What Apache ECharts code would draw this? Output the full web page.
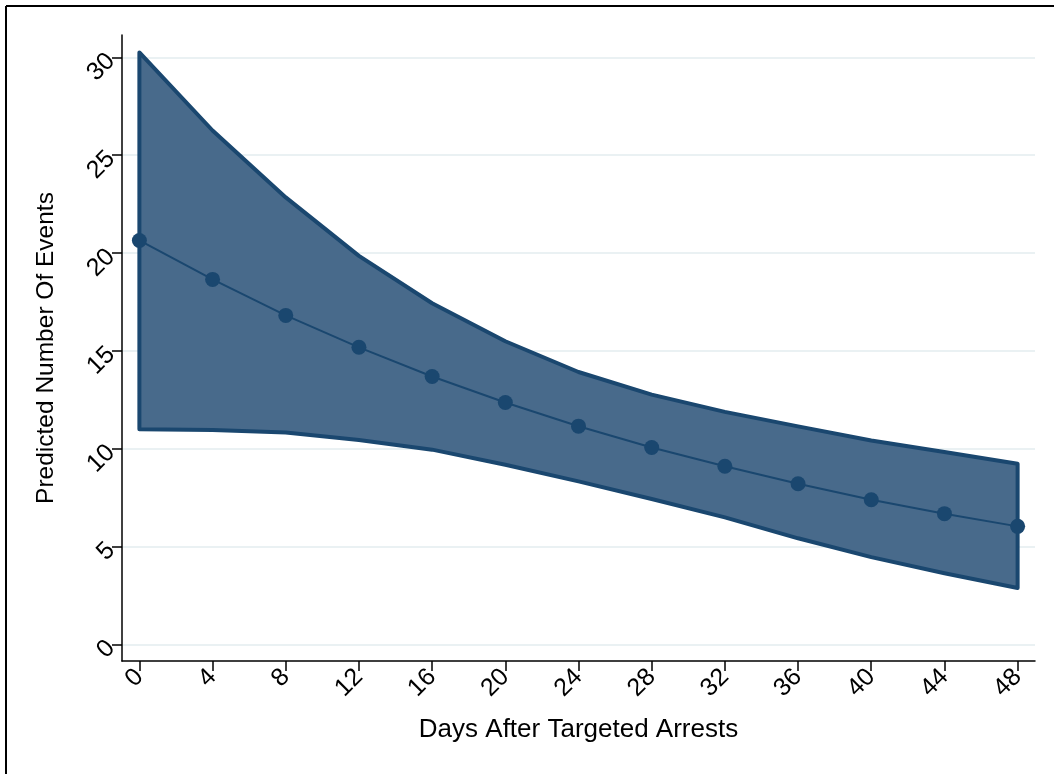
<!DOCTYPE html>
<html>
<head>
<meta charset="utf-8">
<script src="https://cdn.jsdelivr.net/npm/echarts@6/dist/echarts.min.js"></script>
<style>
html,body{margin:0;padding:0;background:#fff;}
#chart{width:1054px;height:774px;}
</style>
</head>
<body>
<div id="chart"></div>
<script>
var days = [0, 4, 8, 12, 16, 20, 24, 28, 32, 36, 40, 44, 48];
var predicted = [20.64, 18.65, 16.81, 15.18, 13.69, 12.36, 11.15, 10.06, 9.10, 8.21, 7.39, 6.68, 6.03];
var upperCI = [30.25, 26.26, 22.84, 19.85, 17.43, 15.49, 13.92, 12.76, 11.88, 11.14, 10.42, 9.83, 9.23];
var lowerCI = [10.99, 10.96, 10.83, 10.44, 9.95, 9.18, 8.33, 7.43, 6.49, 5.42, 4.46, 3.63, 2.88];
var xTicks = [0, 4, 8, 12, 16, 20, 24, 28, 32, 36, 40, 44, 48];
var yTicks = [0, 5, 10, 15, 20, 25, 30];
var xTitle = 'Days After Targeted Arrests';
var yTitle = 'Predicted Number Of Events';

var NAVY = '#1a476f';
var FILL = '#486a8b';
var FONT = '"Liberation Sans", Arial, sans-serif';

var bandData = days.map(function (d, i) { return [d, lowerCI[i], upperCI[i]]; });
var lineData = days.map(function (d, i) { return [d, predicted[i]]; });

var chart = echarts.init(document.getElementById('chart'), null, {renderer: 'canvas'});
chart.setOption({
  animation: false,
  backgroundColor: '#ffffff',
  grid: {left: 122, right: 19, top: 35, bottom: 113, containLabel: false},
  graphic: [
    {type: 'line', shape: {x1: 6, y1: 6, x2: 1054, y2: 6}, style: {stroke: '#000', lineWidth: 2}, z: 100},
    {type: 'line', shape: {x1: 6, y1: 6, x2: 6, y2: 774}, style: {stroke: '#000', lineWidth: 2}, z: 100}
  ],
  xAxis: {
    type: 'value',
    min: -0.95,
    max: 48.95,
    name: xTitle,
    nameLocation: 'middle',
    nameGap: 56,
    nameTextStyle: {fontFamily: FONT, fontSize: 26, color: '#000'},
    axisLine: {show: true, onZero: false, lineStyle: {color: '#000', width: 1.5}},
    axisTick: {show: true, length: 10, customValues: xTicks, lineStyle: {color: '#000', width: 1.5}},
    axisLabel: {show: true, customValues: xTicks, rotate: 45, margin: 12, fontFamily: FONT, fontSize: 25, color: '#000'},
    splitLine: {show: false}
  },
  yAxis: {
    type: 'value',
    min: -0.85,
    max: 31.14,
    name: yTitle,
    nameLocation: 'middle',
    nameGap: 63,
    nameRotate: 90,
    nameTextStyle: {fontFamily: FONT, fontSize: 24.5, color: '#000'},
    axisLine: {show: true, onZero: false, lineStyle: {color: '#000', width: 1.5}},
    axisTick: {show: true, length: 10, customValues: yTicks, lineStyle: {color: '#000', width: 1.5}},
    axisLabel: {show: true, customValues: yTicks, rotate: 45, margin: 11, fontFamily: FONT, fontSize: 25, color: '#000'},
    splitLine: {show: true, lineStyle: {color: '#eaf1f3', width: 2}}
  },
  series: [
    {
      type: 'custom',
      name: 'CI',
      data: bandData,
      clip: false,
      z: 2,
      renderItem: function (params, api) {
        if (params.dataIndex !== 0) { return; }
        var pts = [];
        for (var i = 0; i < bandData.length; i++) {
          pts.push(api.coord([bandData[i][0], bandData[i][2]]));
        }
        for (var j = bandData.length - 1; j >= 0; j--) {
          pts.push(api.coord([bandData[j][0], bandData[j][1]]));
        }
        return {
          type: 'polygon',
          shape: {points: pts},
          style: {fill: FILL, stroke: NAVY, lineWidth: 4, lineJoin: 'round'}
        };
      }
    },
    {
      type: 'line',
      name: 'Predicted',
      data: lineData,
      z: 3,
      symbol: 'circle',
      symbolSize: 15,
      lineStyle: {color: NAVY, width: 2},
      itemStyle: {color: NAVY},
      showSymbol: true
    }
  ]
});
</script>
</body>
</html>
